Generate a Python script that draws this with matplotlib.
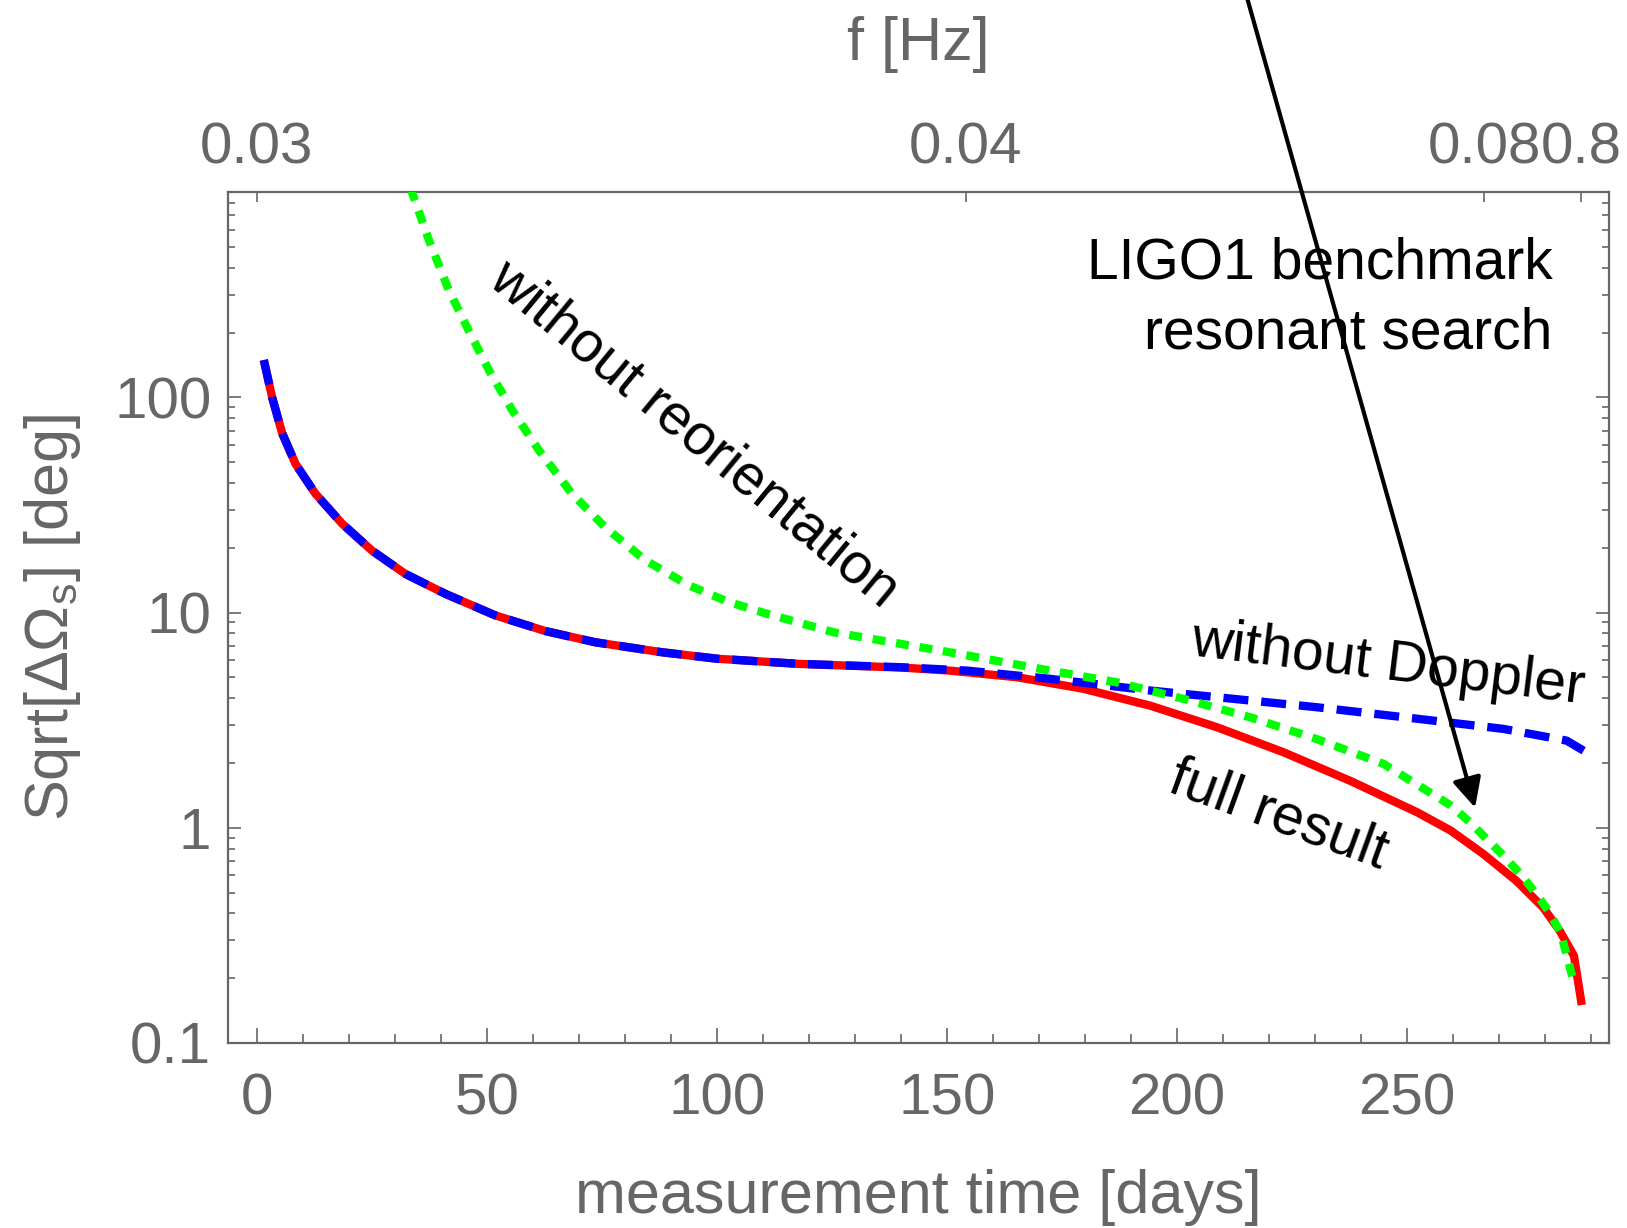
import numpy as np
import matplotlib
matplotlib.use("Agg")
import matplotlib.pyplot as plt
from matplotlib.ticker import FixedLocator, LogLocator, NullFormatter, MultipleLocator

plt.rcParams['font.family'] = ['Liberation Sans', 'DejaVu Sans']
plt.rcParams['mathtext.fontset'] = 'custom'
plt.rcParams['mathtext.rm'] = 'Liberation Sans'
plt.rcParams['mathtext.default'] = 'regular'

GRAY = '#666666'

# full result (red)
days_full = [1.5, 3.3, 5.5, 8.4, 12.7, 18.5, 25.0, 32.3, 41.0, 51.8, 62.7, 73.6, 88.0,
             100.0, 118.0, 140.0, 150.7, 165.3, 179.7, 194.2, 208.7, 223.2, 237.7,
             252.2, 259.5, 266.6, 273.8, 279.6, 283.2, 286.3, 288.0]
sig_full = [149, 100, 68, 49, 35.7, 25.9, 19.4, 15.1, 12.2, 9.7, 8.2, 7.27, 6.54,
            6.1, 5.77, 5.55, 5.37, 5.0, 4.42, 3.69, 2.93, 2.24, 1.65,
            1.18, 0.97, 0.755, 0.566, 0.426, 0.332, 0.254, 0.15]

# without Doppler (blue dashed)
days_nodop = [1.5, 3.3, 5.5, 8.4, 12.7, 18.5, 25.0, 32.3, 41.0, 51.8, 62.7, 73.6, 88.0,
              100.0, 118.0, 140.0, 154.4, 172.4, 194.2, 212.3, 230.4, 252.2,
              270.9, 284.7, 288.4]
sig_nodop = [149, 100, 68, 49, 35.7, 25.9, 19.4, 15.1, 12.2, 9.7, 8.2, 7.27, 6.54,
             6.1, 5.77, 5.57, 5.37, 4.92, 4.34, 3.97, 3.63, 3.21,
             2.88, 2.54, 2.28]

# without reorientation (green dotted)
days_noreo = [33.4, 37.4, 41.7, 46.0, 50.4, 55.5, 61.3, 68.5, 75.7, 84.4, 93.8, 102.5,
              110.9, 125.4, 139.9, 150.7, 172.4, 186.9, 201.4, 215.9, 230.4, 244.9,
              259.5, 263.7, 267.7, 271.3, 274.9, 278.2, 281.1, 283.5, 286.3]
sig_noreo = [935, 537, 315, 205, 134, 87, 56.7, 35.6, 24.9, 17.5, 13.4, 11.2,
             9.86, 8.09, 7.15, 6.53, 5.37, 4.74, 3.97, 3.26, 2.58, 1.98,
             1.27, 1.06, 0.87, 0.73, 0.60, 0.49, 0.40, 0.32, 0.19]

# top axis: frequency labels and where they sit in days
freq_days = [0.0, 154.1, 266.8, 287.8]
freq_labels = ["0.03", "0.04", "0.08", "0.8"]

fig = plt.figure(figsize=(16.27, 12.28), dpi=100)
ax = fig.add_axes([0.1401, 0.1507, 0.8488, 0.6930])

lw = 6
ax.plot(days_full, sig_full, color='#ff0000', lw=lw, solid_capstyle='butt', zorder=3)
ax.plot(days_nodop, sig_nodop, color='#0000ff', lw=lw, linestyle=(0, (3.0, 1.55)),
        dash_capstyle='butt', zorder=4)
ax.plot(days_noreo, sig_noreo, color='#00ff00', lw=lw, linestyle=(0, (1.55, 1.3)),
        dash_capstyle='butt', zorder=5)

ax.set_yscale('log')
ax.set_xlim(-6.3, 293.9)
ax.set_ylim(0.1, 900)

ax.yaxis.set_major_locator(FixedLocator([0.1, 1, 10, 100]))
ax.set_yticklabels(["0.1", "1", "10", "100"])
ax.yaxis.set_minor_locator(LogLocator(base=10, subs=np.arange(2, 10)))
ax.yaxis.set_minor_formatter(NullFormatter())
ax.xaxis.set_major_locator(FixedLocator([0, 50, 100, 150, 200, 250]))
ax.xaxis.set_minor_locator(MultipleLocator(10))

for s in ax.spines.values():
    s.set_color(GRAY)
    s.set_linewidth(1.6)

ax.tick_params(axis='both', which='both', direction='in', colors=GRAY,
               labelsize=42, width=1.2, pad=12)
ax.tick_params(axis='x', which='both', pad=21)
ax.tick_params(axis='x', which='major', length=11)
ax.tick_params(axis='x', which='minor', length=6.5)
ax.tick_params(axis='y', which='major', length=9.5, right=True)
ax.tick_params(axis='y', which='minor', length=5, right=True)
ax.tick_params(top=False)

ax2 = ax.twiny()
ax2.set_xlim(ax.get_xlim())
ax2.set_xticks(freq_days)
ax2.set_xticklabels(freq_labels)
ax2.tick_params(axis='x', direction='in', colors=GRAY, labelsize=42,
                length=7.5, width=1.2, pad=12)
for s in ax2.spines.values():
    s.set_visible(False)

ax.set_xlabel("measurement time [days]", fontsize=44, color=GRAY, labelpad=31)
ax2.set_xlabel("f [Hz]", fontsize=44, color=GRAY, labelpad=44)
ax.set_ylabel(r"Sqrt[$\Delta\Omega_s$] [deg]", fontsize=44, color=GRAY, labelpad=22)

# curve labels
ax.text(94.9, 67.3, "without reorientation", fontsize=41, rotation=-39.5,
        ha='center', va='center', rotation_mode='anchor')
ax.text(245.9, 5.73, "without Doppler", fontsize=41, rotation=-7,
        ha='center', va='center', rotation_mode='anchor')
ax.text(222, 1.14, "full result", fontsize=41, rotation=-20,
        ha='center', va='center', rotation_mode='anchor')
ax.text(281.7, 289, "LIGO1 benchmark\nresonant search", fontsize=41,
        ha='right', va='center', multialignment='right', linespacing=1.38)

ax.annotate("", xy=(264.8, 1.24), xycoords='data',
            xytext=(0.7634, 1.0163), textcoords='figure fraction',
            arrowprops=dict(arrowstyle='-|>,head_length=0.45,head_width=0.22',
                            mutation_scale=40, lw=3, color='k',
                            shrinkA=0, shrinkB=0),
            annotation_clip=False, zorder=6)

fig.savefig("out.png", dpi=100)
